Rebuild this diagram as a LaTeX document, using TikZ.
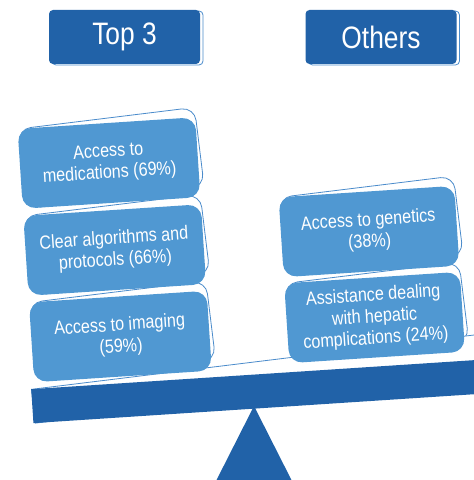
\documentclass[tikz,border=0pt]{standalone}
\usepackage{fontspec}
\setmainfont{Liberation Sans}[FakeStretch=0.85]
\usetikzlibrary{backgrounds}
\definecolor{azul}{HTML}{2162A8}
\definecolor{celeste}{HTML}{5098D2}
\definecolor{borde}{HTML}{4A8BCB}

\begin{document}
\begin{tikzpicture}[
      x=1pt, y=1pt,
      titulo/.style={fill=azul, text=white, rounded corners=4pt, inner sep=0pt,
                     minimum width=151pt, minimum height=54pt,
                     font=\fontsize{31}{36}\selectfont},
      tituloatras/.style={draw=borde, fill=white, line width=0.8pt, rounded corners=4pt,
                          inner sep=0pt, minimum width=151pt, minimum height=54pt},
      caja/.style={fill=celeste, text=white, rounded corners=13pt, align=center,
                   inner sep=0pt, minimum height=80pt, rotate=3.75,
                   font=\fontsize{19}{21.5}\selectfont},
      atras/.style={draw=borde, fill=white, line width=0.8pt, rounded corners=13pt,
                    inner sep=0pt, minimum height=80pt, rotate=7, anchor=north west},
      barra/.style={fill=azul, inner sep=0pt, minimum width=560pt, minimum height=34pt,
                    rotate=3.75, anchor=north west},
      barraatras/.style={draw=borde, fill=white, line width=0.8pt, inner sep=0pt,
                         minimum width=560pt, minimum height=34pt, rotate=7, anchor=north west}
    ]
    \useasboundingbox (0,0) rectangle (474,480);

    \node[titulo] (top)   at (124.5,443) {Top 3};
    \node[titulo] (otros) at (381,443)   {Others};

    \node[caja, minimum width=178pt] (b1) at (109,317)     {Access to\\medications (69\%)};
    \node[caja, minimum width=178pt] (b2) at (114.7,230)   {Clear algorithms and\\protocols (66\%)};
    \node[caja, minimum width=178pt] (b3) at (120.4,143.5) {Access to imaging\\(59\%)};
    \node[caja, minimum width=176pt] (b4) at (369,248.5)   {Access to genetics\\(38\%)};
    \node[caja, minimum width=176pt] (b5) at (374.6,162.5) {Assistance dealing\\with hepatic\\complications (24\%)};

    \node[barra] (viga) at (31,91) {};
    \coordinate (apoyo) at (254,74);
    \fill[azul] (apoyo) -- ++(-40.5,-80) -- ++(81,0) -- cycle;

    \begin{pgfonlayer}{background}
      \node[tituloatras, xshift=3pt, yshift=-1pt] (topb)   at (top)   {};
      \node[tituloatras, xshift=3pt, yshift=-1pt] (otrosb) at (otros) {};
      \foreach \b/\w in {b1/178, b2/178, b3/178, b4/176, b5/176}
        \node[atras, minimum width=\w pt] (\b a) at (\b.north west) {};
      \node[barraatras] (vigab) at (viga.north west) {};
    \end{pgfonlayer}
  \end{tikzpicture}
\end{document}
